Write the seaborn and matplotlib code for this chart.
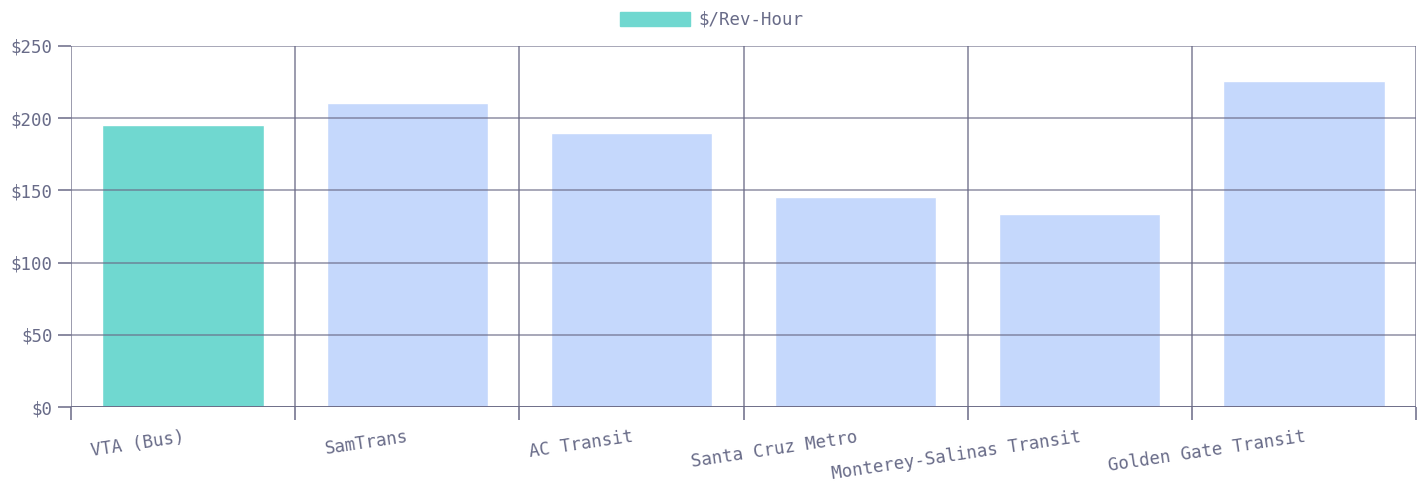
import matplotlib
matplotlib.use("Agg")
import matplotlib.pyplot as plt
from matplotlib.patches import Patch
from matplotlib.ticker import FixedLocator, FuncFormatter
import seaborn as sns
import pandas as pd

# Data
agencies = ["VTA (Bus)", "SamTrans", "AC Transit", "Santa Cruz Metro",
            "Monterey-Salinas Transit", "Golden Gate Transit"]
cost_per_rev_hour = [195.5, 210.5, 189.5, 145.5, 133.5, 225.5]
bar_colors = ["#70d8d0", "#c5d8fc", "#c5d8fc", "#c5d8fc", "#c5d8fc", "#c5d8fc"]
legend_label = "$/Rev-Hour"

TEXT = "#686b88"
GRID = "#6a6a86"

sns.set_style("white")
plt.rcParams["font.family"] = ["DejaVu Sans Mono", "DejaVu Sans"]
plt.rcParams["font.size"] = 12.5

df = pd.DataFrame({"agency": agencies, "value": cost_per_rev_hour})

fig = plt.figure(figsize=(14.24, 4.82), dpi=100)
ax = fig.add_axes([0.0499, 0.1556, 0.9445, 0.749])

sns.barplot(data=df, x="agency", y="value", hue="agency",
            palette=bar_colors, width=0.72, legend=False, ax=ax,
            saturation=1)

ax.set_xlim(-0.5, len(agencies) - 0.5)
ax.set_ylim(0, 250)
ax.set_xlabel("")
ax.set_ylabel("")

# grid drawn over bars, vertical lines on category boundaries
ax.set_axisbelow(False)
ax.yaxis.set_major_locator(FixedLocator([0, 50, 100, 150, 200, 250]))
ax.yaxis.set_major_formatter(FuncFormatter(lambda v, p: f"${v:.0f}"))
ax.xaxis.set_minor_locator(FixedLocator([i - 0.5 for i in range(len(agencies) + 1)]))
ax.grid(True, axis="y", which="major", color=GRID, linewidth=1.1, alpha=0.75)
ax.grid(True, axis="x", which="minor", color=GRID, linewidth=1.1, alpha=0.85)

for s in ax.spines.values():
    s.set_visible(False)
ax.axhline(0, color=GRID, linewidth=1.4, alpha=0.9)

ax.tick_params(axis="y", which="major", left=True, length=9.4, width=1.1,
               color=GRID, labelcolor=TEXT, pad=4)
ax.tick_params(axis="x", which="minor", bottom=True, length=9.4, width=1.1,
               color=GRID, direction="out")
ax.tick_params(axis="x", which="major", bottom=True, length=0, pad=15,
               labelcolor=TEXT)
ax.set_xticks(range(len(agencies)))
ax.set_xticklabels(agencies, rotation=8.5, ha="right", va="top",
                   rotation_mode="anchor")

handle = Patch(facecolor=bar_colors[0], edgecolor=bar_colors[0])
fig.legend([handle], [legend_label], loc="upper center",
           bbox_to_anchor=(0.5, 1.01), frameon=False, handlelength=4.0,
           handleheight=0.9, handletextpad=0.5, labelcolor=TEXT)

fig.savefig("out.png", dpi=100)
